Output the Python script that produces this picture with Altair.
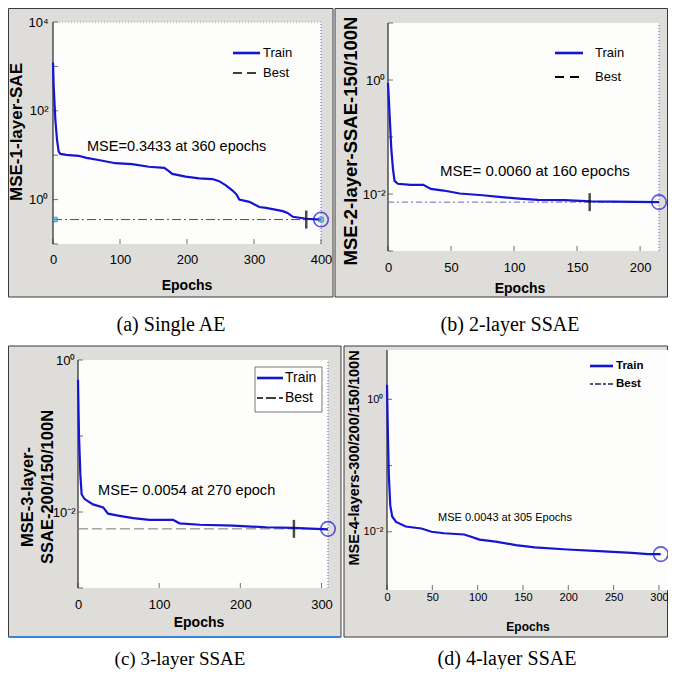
import altair as alt
import pandas as pd

# ---------------- data ----------------
# (a) Single AE
epochs_a = [0, 1, 3.5, 6, 8.5, 11, 20, 38, 50, 68, 93, 118, 143, 166, 172, 178, 198, 218,
            238, 248, 258, 268, 274, 278, 293, 308, 318, 343, 350, 358, 378, 400]
mse_a = [1230, 363, 63, 22, 12, 10.7, 10.2, 9.7, 8.7, 7.8, 6.6, 6.3, 5.5, 5.2, 4.5, 3.8, 3.3, 3.0,
         2.9, 2.6, 2.1, 1.6, 1.3, 1.0, 0.89, 0.68, 0.65, 0.55, 0.50, 0.41, 0.37, 0.355]
best_a = 0.355
best_epoch_a = 378
end_epoch_a = 400

# (b) 2-layer SSAE
epochs_b = [0, 1.3, 2.6, 3.9, 5.2, 7.8, 18, 28, 34, 44, 57, 75, 88, 104, 119, 140, 161, 215]
mse_b = [0.89, 0.24, 0.063, 0.028, 0.017, 0.0151, 0.0145, 0.0145, 0.0123, 0.0115, 0.0102,
         0.0095, 0.0089, 0.0083, 0.0079, 0.0078, 0.0074, 0.0072]
best_b = 0.0072
best_epoch_b = 160
end_epoch_b = 215

# (c) 3-layer SSAE
epochs_c = [0, 1.2, 2.9, 4.5, 8.2, 18.5, 31, 37, 51, 68, 88, 117, 125, 150, 191, 232, 265, 308]
mse_c = [0.55, 0.105, 0.031, 0.017, 0.0148, 0.0126, 0.0115, 0.0095, 0.0089, 0.0083, 0.0079,
         0.0079, 0.0071, 0.0068, 0.0066, 0.0063, 0.0062, 0.0059]
best_c = 0.006
best_epoch_c = 266
end_epoch_c = 308

# (d) 4-layer SSAE
epochs_d = [0, 1, 2, 3.6, 5.7, 10, 20.6, 38, 49, 63, 85, 92, 102, 120, 142, 163, 199, 234, 270, 288, 302]
mse_d = [1.66, 0.29, 0.072, 0.025, 0.017, 0.0141, 0.012, 0.0112, 0.0100, 0.0095, 0.0091, 0.0085,
         0.0076, 0.0071, 0.0063, 0.0058, 0.0054, 0.0051, 0.0048, 0.0046, 0.0046]
best_d = 0.0046
end_epoch_d = 302

xticks_a = [0, 100, 200, 300, 400]
xticks_b = [0, 50, 100, 150, 200]
xticks_c = [0, 100, 200, 300]
xticks_d = [0, 50, 100, 150, 200, 250, 300]
yticks_a = [1, 100, 10000]
ylabels_a = ["10\u2070", "10\u00b2", "10\u2074"]
yticks_bcd = [0.01, 1]
ylabels_bcd = ["10\u207b\u00b2", "10\u2070"]
# decade tick marks on the log axes
ydecades_a = [0.1, 1, 10, 100, 1000, 10000]
ydecades_b = [0.001, 0.01, 0.1, 1, 10]
ydecades_c = [0.001, 0.01, 0.1, 1]
ydecades_d = [0.01, 0.1, 1]

SANS = "Liberation Sans"
SERIF = "Liberation Serif"
BLUE = "#1414d4"
GRAY_BG = "#dfddda"
PLOT_BG = "#fdfdfb"
VW, VH = 660, 661          # whole figure, pixels


def label_expr(vals, labels):
    parts = [f"datum.value == {v} ? '{l}'" for v, l in zip(vals, labels)]
    return " : ".join(parts) + " : ''"


ONE = alt.Data(values=[{"k": 0}])


def vtext(txt, x, y, size, bold=False, angle=0, font=SANS, align="center", color="black"):
    return alt.Chart(ONE).mark_text(
        text=txt, font=font, fontSize=size, fontWeight="bold" if bold else "normal",
        angle=angle, align=align, baseline="middle", color=color
    ).encode(x=alt.value(x), y=alt.value(y))


def vrule(x0, x1, y, color, width, dash=None):
    kw = dict(color=color, strokeWidth=width)
    if dash:
        kw["strokeDash"] = dash
    return alt.Chart(ONE).mark_rule(**kw).encode(
        x=alt.value(x0), x2=alt.value(x1), y=alt.value(y))


def panel(p):
    bx0, bx1, by0, by1 = p["box"]
    L, R, T, B = p["plot"]
    df = pd.DataFrame({"epoch": p["epochs"], "mse": p["mse"]})
    xs = alt.Scale(domain=p["xdom"], range=[L, R], nice=False, zero=False)
    ys = alt.Scale(type="log", domain=p["ydom"], range=[B, T], nice=False)
    xaxis = alt.Axis(values=p["xticks"], title=None, grid=False, ticks=False, domain=False,
                     orient="bottom", labelFont=SANS, labelFontSize=p["xls"],
                     labelPadding=p["xlp"], labelColor="black", labelFlush=False,
                     offset=B - VH, zindex=1)
    yaxis = alt.Axis(values=p["yticks"], labelExpr=label_expr(p["yticks"], p["ylabels"]),
                     title=None, grid=False, ticks=False, domain=False,
                     orient="left", labelFont=SANS, labelFontSize=p["yls"],
                     labelFlush=False, labelPadding=p["ylp"], labelColor="black",
                     offset=-L, zindex=1)

    layers = [
        alt.Chart(ONE).mark_rect(fill=GRAY_BG, stroke="#3a3a3a", strokeWidth=1).encode(
            x=alt.value(bx0), x2=alt.value(bx1), y=alt.value(by0), y2=alt.value(by1)),
        # white plot area, spanning the axis domains
        alt.Chart(ONE).mark_rect(fill=PLOT_BG).encode(
            x=alt.XDatum(p["xdom"][0], type="quantitative", scale=xs, axis=xaxis),
            x2=alt.datum(p["xdom"][1]),
            y=alt.YDatum(p["ydom"][0], type="quantitative", scale=ys, axis=yaxis),
            y2=alt.datum(p["ydom"][1])),
        # left axis line (under the curve)
        alt.Chart(ONE).mark_rule(color="black", strokeWidth=1).encode(
            x=alt.datum(p["xdom"][0]), y=alt.datum(p["ydom"][0]), y2=alt.datum(p["ydom"][1])),
        # inward tick marks
        alt.Chart(pd.DataFrame({"v": p["ydec"]})).mark_tick(
            orient="horizontal", color="#333", size=5, thickness=1, xOffset=2.5).encode(
            y="v:Q", x=alt.datum(p["xdom"][0])),
        alt.Chart(pd.DataFrame({"e": p["xticks"]})).mark_tick(
            orient="vertical", color="#333", size=5, thickness=1, yOffset=-2.5).encode(
            x="e:Q", y=alt.datum(p["ydom"][0])),
    ]
    if p.get("top_dots"):
        layers.append(alt.Chart(ONE).mark_rule(color="#9a9a9a", strokeWidth=1, strokeDash=[1, 2]).encode(
            y=alt.datum(p["ydom"][1]), x=alt.datum(p["xdom"][0]), x2=alt.datum(p["xdom"][1])))
    if p.get("best_dash"):
        layers.append(alt.Chart(ONE).mark_rule(color=p["best_color"], strokeWidth=1,
                                               strokeDash=p["best_dash"]).encode(
            y=alt.datum(p["best"]), x=alt.datum(p["xdom"][0]), x2=alt.datum(p["xdom"][1])))
    if p.get("right_dots"):
        layers.append(alt.Chart(ONE).mark_rule(color="#5a5acc", strokeWidth=1, strokeDash=[1, 2]).encode(
            x=alt.datum(p["right_dots"]), y=alt.datum(p["ydom"][0]), y2=alt.datum(p["ydom"][1])))
    layers.append(alt.Chart(df).mark_line(color=BLUE, strokeWidth=2.2).encode(
        x=alt.X("epoch:Q"), y=alt.Y("mse:Q")))
    if p.get("best_epoch") is not None:
        layers.append(alt.Chart(ONE).mark_tick(orient="vertical", color="black", size=18,
                                               thickness=2.5).encode(
            x=alt.datum(p["best_epoch"]), y=alt.datum(p["best"])))
    layers.append(alt.Chart(ONE).mark_point(shape="circle", filled=False, size=210, color=BLUE,
                                            strokeWidth=1.6).encode(
        x=alt.datum(p["end_epoch"]), y=alt.datum(p["best"])))
    if p.get("squares"):
        sq = pd.DataFrame({"epoch": p["squares"], "mse": [p["best"]] * len(p["squares"])})
        layers.append(alt.Chart(sq).mark_square(size=22, color="#38b6e8", stroke="#1a5a9a",
                                                strokeWidth=0.8).encode(
            x="epoch:Q", y="mse:Q"))
    # legend
    lg = p["legend"]
    if lg.get("box"):
        lx0, lx1, ly0, ly1 = lg["box"]
        layers.append(alt.Chart(ONE).mark_rect(fill="white", stroke="#777", strokeWidth=1).encode(
            x=alt.value(lx0), x2=alt.value(lx1), y=alt.value(ly0), y2=alt.value(ly1)))
    layers.append(vrule(lg["x0"], lg["x1"], lg["y1"], BLUE, 2.6))
    layers.append(vrule(lg["x0"], lg["x1"], lg["y2"], lg["best_color"], lg["best_w"], lg["best_dash"]))
    layers.append(vtext("Train", lg["tx"], lg["y1"], lg["size"], bold=lg["bold"], align="left"))
    layers.append(vtext("Best", lg["tx"], lg["y2"], lg["size"], bold=lg["bold"], align="left"))
    # annotation
    ax, ay, asz = p["ann_pos"]
    layers.append(vtext(p["ann"], ax, ay, asz, align="left"))
    # axis titles
    for txt, tx, ty in p["ytitle"]:
        layers.append(vtext(txt, tx, ty, p["yts"], bold=True, angle=270))
    ex, ey, es = p["xtitle"]
    layers.append(vtext("Epochs", ex, ey, es, bold=True))
    if p.get("bottom_line"):
        layers.append(vrule(bx0, bx1, by1, "#3a86d6", 2))
    cx, cy, cs = p["caption_pos"]
    layers.append(vtext(p["caption"], cx, cy, cs, font=SERIF))
    return alt.layer(*layers)


pa = panel(dict(
    box=(0.5, 325, 0.5, 289), plot=(45, 313, 14, 236),
    epochs=epochs_a, mse=mse_a, xdom=[0, 400], ydom=[0.1, 10000], ydec=ydecades_a,
    xticks=xticks_a, yticks=yticks_a, ylabels=ylabels_a, xls=13, xlp=9, yls=13, ylp=5,
    best=best_a, best_epoch=best_epoch_a, end_epoch=end_epoch_a,
    best_dash=[9, 3, 2, 3], best_color="#4a4e63", squares=[3, 400],
    top_dots=True, right_dots=400,
    legend=dict(x0=225, x1=252, y1=45, y2=65, tx=255, size=13, bold=False,
                best_color="black", best_w=1.6, best_dash=[9, 5]),
    ann="MSE=0.3433 at 360 epochs", ann_pos=(79, 139, 14.5),
    ytitle=[("MSE-1-layer-SAE", 9, 124)], yts=17,
    xtitle=(179, 278, 14), caption="(a) Single AE", caption_pos=(163, 317, 20)))

pb = panel(dict(
    box=(327, 659.5, 0.5, 289), plot=(380, 651, 15, 243),
    epochs=epochs_b, mse=mse_b, xdom=[0, 215], ydom=[0.001, 10], ydec=ydecades_b,
    xticks=xticks_b, yticks=yticks_bcd, ylabels=ylabels_bcd, xls=13, xlp=10, yls=13, ylp=3,
    best=best_b, best_epoch=best_epoch_b, end_epoch=end_epoch_b,
    best_dash=[6, 3, 2, 3], best_color="#6a6ab4", right_dots=215,
    legend=dict(x0=547, x1=575, y1=45, y2=69, tx=587, size=13, bold=False,
                best_color="black", best_w=2.2, best_dash=[9, 6]),
    ann="MSE= 0.0060 at 160 epochs", ann_pos=(432, 163, 15),
    ytitle=[("MSE-2-layer-SSAE-150/100N", 343, 133)], yts=18.5,
    xtitle=(512, 281, 14), caption="(b) 2-layer SSAE", caption_pos=(502, 317, 20)))

pc = panel(dict(
    box=(0.5, 333, 338, 629), plot=(70, 320, 352, 580),
    epochs=epochs_c, mse=mse_c, xdom=[0, 308], ydom=[0.001, 1], ydec=ydecades_c,
    xticks=xticks_c, yticks=yticks_bcd, ylabels=ylabels_bcd, xls=13, xlp=10, yls=13, ylp=3,
    best=best_c, best_epoch=best_epoch_c, end_epoch=end_epoch_c,
    best_dash=[10, 4], best_color="#777777", right_dots=308,
    legend=dict(box=(247, 314, 359, 404), x0=249, x1=275, y1=370, y2=390, tx=277, size=14,
                bold=False, best_color="black", best_w=1.6, best_dash=[6, 3, 10, 3]),
    ann="MSE= 0.0054 at 270 epoch", ann_pos=(90, 483, 14.6),
    ytitle=[("MSE-3-layer-", 20, 489), ("SSAE-200/150/100N", 40, 479)], yts=16.5,
    xtitle=(191, 615, 14), bottom_line=True,
    caption="(c) 3-layer SSAE", caption_pos=(172, 651, 19)))

pd_ = panel(dict(
    box=(336, 659.5, 338, 629), plot=(379, 660, 342, 582),
    epochs=epochs_d, mse=mse_d, xdom=[0, 310], ydom=[0.00132, 5.56], ydec=ydecades_d,
    xticks=xticks_d, yticks=yticks_bcd, ylabels=ylabels_bcd, xls=11, xlp=1, yls=11, ylp=4,
    best=best_d, best_epoch=None, end_epoch=end_epoch_d,
    legend=dict(x0=582, x1=605, y1=358, y2=376, tx=608, size=11.5, bold=True,
                best_color="#202060", best_w=1.6, best_dash=[3, 2, 6, 2]),
    ann="MSE 0.0043 at 305 Epochs", ann_pos=(430, 510, 11),
    ytitle=[("MSE-4-layers-300/200/150/100N", 347, 450)], yts=14.5,
    xtitle=(520, 619, 12), caption="(d) 4-layer SSAE", caption_pos=(499, 651, 20)))

chart = alt.layer(pa, pb, pc, pd_).resolve_scale(
    x="independent", y="independent"
).resolve_axis(
    x="independent", y="independent"
).properties(
    width=VW, height=VH, padding=0, autosize=alt.AutoSizeParams(type="none")
).configure_view(stroke=None, fill=None)

chart.save("out.html", embed_options={"renderer": "svg", "actions": False})
